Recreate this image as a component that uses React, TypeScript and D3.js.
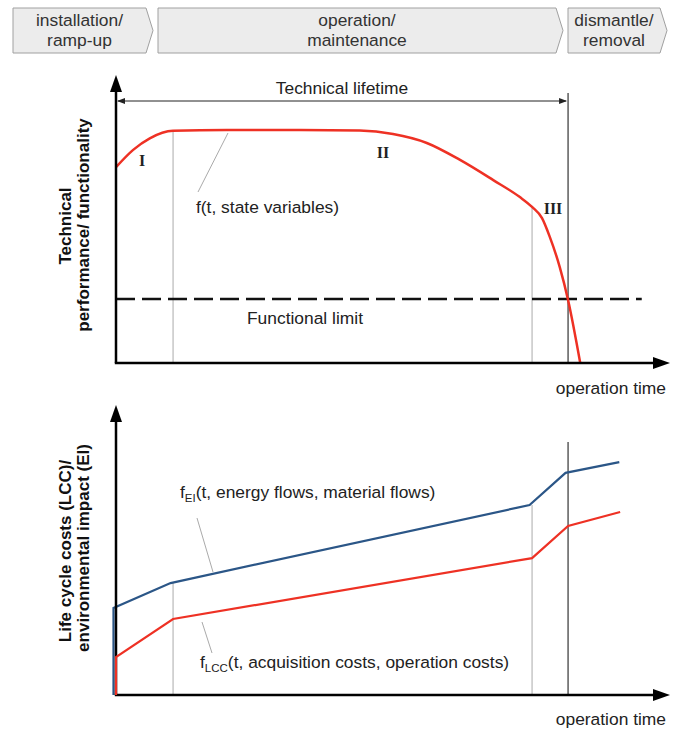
import React from "react";
import * as d3 from "d3";

// ---- data ----
const PHASE_LABELS = [
  ["installation/", "ramp-up"],
  ["operation/", "maintenance"],
  ["dismantle/", "removal"],
];

// Top chart: technical performance over operation time
const TIME_TOP = [0, 3.1, 6.1, 10.3, 20, 33.2, 44, 50, 56.1, 62.1, 68.1, 72.9, 75.1, 76.9, 78.3, 80.1, 81.6, 83.8];
const PERF = [68, 74, 78, 80.6, 80.9, 80.9, 80.7, 79.5, 76.4, 70.5, 63.5, 57.6, 54.2, 50.3, 43.8, 33.3, 21.9, 0];
const FUNCTIONAL_LIMIT = 22.2;
const LIMIT_END = 94.9;

// Phase boundaries (time)
const RAMP_END = 10.3;
const WEAR_START = 75.1;
const LIFETIME_END = 81.6;

// Bottom chart: cumulative LCC / EI
const TIME_EI = [0, 0, 10.3, 75.1, 81.6, 91.3];
const EI = [0, 30, 38.6, 65.5, 76.6, 80.3];
const TIME_LCC = [0, 0, 10.3, 75.1, 81.6, 91.0];
const LCC = [0, 13.1, 26.2, 47.2, 58.3, 63.1];

const RED = "#ee3124";
const BLUE = "#2b5687";
const GREY = "#aaaaaa";
const FONT = "'Liberation Sans', Arial, sans-serif";
const SERIF = "'Liberation Serif', 'Times New Roman', serif";
const FS = 17.4;

export default function App() {
  const x = d3.scaleLinear().domain([0, 100]).range([116, 670]);
  const yTop = d3.scaleLinear().domain([0, 100]).range([363, 75]);
  const yBot = d3.scaleLinear().domain([0, 100]).range([695, 405]);

  const perfLine = d3
    .line<number>()
    .x((_, i) => x(TIME_TOP[i]))
    .y((d) => yTop(d))
    .curve(d3.curveMonotoneX);

  const eiLine = d3
    .line<number>()
    .x((_, i) => x(TIME_EI[i]))
    .y((d) => yBot(d));
  const lccLine = d3
    .line<number>()
    .x((_, i) => x(TIME_LCC[i]))
    .y((d) => yBot(d));

  const boxes = [
    [13, 153],
    [158, 563],
    [568, 667],
  ];

  const axis = (y0: number, yTopTip: number) => {
    const x0 = x(0);
    const xEnd = x(100);
    return (
      <g>
        <line x1={x0} y1={y0} x2={x0} y2={yTopTip + 12} stroke="#000" strokeWidth={2.5} />
        <path d={`M${x0},${yTopTip} L${x0 - 6},${yTopTip + 17} L${x0 + 6},${yTopTip + 17} Z`} fill="#000" />
        <line x1={x0 - 1.2} y1={y0} x2={xEnd - 12} y2={y0} stroke="#000" strokeWidth={2.5} />
        <path d={`M${xEnd},${y0} L${xEnd - 17},${y0 - 6} L${xEnd - 17},${y0 + 6} Z`} fill="#000" />
      </g>
    );
  };

  return (
    <svg
      width={681}
      height={729}
      style={{ position: "absolute", left: 0, top: 0, background: "#fff" }}
      fontFamily={FONT}
    >
      <rect width={681} height={729} fill="#fff" />
      {/* phase chevrons */}
      {PHASE_LABELS.map((lab, i) => {
        const [x0, x1] = boxes[i];
        const t = 8;
        const b = 53;
        const m = (t + b) / 2;
        const cx = (x0 + x1 - 7) / 2;
        return (
          <g key={i}>
            <path
              d={`M${x0},${t} H${x1 - 7} L${x1},${m} L${x1 - 7},${b} H${x0} Z`}
              fill="#ececec"
              stroke="#a0a0a0"
              strokeWidth={1}
            />
            <text x={cx} y={26} textAnchor="middle" fontSize={FS} fill="#333">
              {lab[0]}
            </text>
            <text x={cx} y={46} textAnchor="middle" fontSize={FS} fill="#333">
              {lab[1]}
            </text>
          </g>
        );
      })}

      {/* ===== top chart ===== */}
      <line x1={x(RAMP_END)} y1={yTop(PERF[3])} x2={x(RAMP_END)} y2={363} stroke={GREY} strokeWidth={1} />
      <line x1={x(WEAR_START)} y1={yTop(PERF[12])} x2={x(WEAR_START)} y2={363} stroke={GREY} strokeWidth={1} />
      <line x1={x(LIFETIME_END)} y1={93} x2={x(LIFETIME_END)} y2={363} stroke="#333" strokeWidth={1.2} />
      {/* technical lifetime arrow */}
      <line x1={x(0) + 2} y1={101} x2={x(LIFETIME_END) - 2} y2={101} stroke="#222" strokeWidth={1} />
      <path d={`M${x(0) + 1},101 L${x(0) + 9},98 L${x(0) + 9},104 Z`} fill="#222" />
      <path d={`M${x(LIFETIME_END) - 1},101 L${x(LIFETIME_END) - 9},98 L${x(LIFETIME_END) - 9},104 Z`} fill="#222" />
      <text x={342} y={94} textAnchor="middle" fontSize={FS} fill="#222">
        Technical lifetime
      </text>

      {/* functional limit */}
      <line
        x1={x(0)}
        y1={yTop(FUNCTIONAL_LIMIT)}
        x2={x(LIMIT_END)}
        y2={yTop(FUNCTIONAL_LIMIT)}
        stroke="#111"
        strokeWidth={2.5}
        strokeDasharray="19,7"
      />
      <text x={305} y={324} textAnchor="middle" fontSize={FS} fill="#222">
        Functional limit
      </text>

      {/* curve */}
      <path d={perfLine(PERF) || ""} fill="none" stroke={RED} strokeWidth={2.5} />
      <line x1={228} y1={133} x2={198} y2={192} stroke={GREY} strokeWidth={1} />
      <text x={196} y={213} fontSize={FS} fill="#222">
        f(t, state variables)
      </text>
      <text x={142} y={166} textAnchor="middle" fontSize={16} fontWeight="bold" fontFamily={SERIF} fill="#222">
        I
      </text>
      <text x={383} y={158} textAnchor="middle" fontSize={16} fontWeight="bold" fontFamily={SERIF} fill="#222">
        II
      </text>
      <text x={553} y={214} textAnchor="middle" fontSize={16} fontWeight="bold" fontFamily={SERIF} fill="#222">
        III
      </text>

      {axis(363, 75)}
      <text x={666} y={394} textAnchor="end" fontSize={FS} fill="#222">
        operation time
      </text>
      <g transform="translate(71,226) rotate(-90)">
        <text textAnchor="middle" fontSize={17} fontWeight="bold" fill="#111">
          Technical
        </text>
      </g>
      <g transform="translate(89,225) rotate(-90)">
        <text textAnchor="middle" fontSize={17} fontWeight="bold" fill="#111">
          performance/ functionality
        </text>
      </g>

      {/* ===== bottom chart ===== */}
      <line x1={x(RAMP_END)} y1={yBot(EI[2])} x2={x(RAMP_END)} y2={695} stroke={GREY} strokeWidth={1} />
      <line x1={x(WEAR_START)} y1={yBot(EI[3])} x2={x(WEAR_START)} y2={695} stroke={GREY} strokeWidth={1} />
      <line x1={x(LIFETIME_END)} y1={442} x2={x(LIFETIME_END)} y2={695} stroke="#333" strokeWidth={1.2} />

      <path d={eiLine(EI) || ""} fill="none" stroke={BLUE} strokeWidth={2.2} transform="translate(-2.5,0)" />
      {axis(695, 405)}
      <path d={lccLine(LCC) || ""} fill="none" stroke={RED} strokeWidth={2.2} />

      <line x1={197} y1={518} x2={213} y2={572} stroke={GREY} strokeWidth={1} />
      <text x={180} y={498} fontSize={FS} fill="#222">
        f<tspan fontSize={11.5} dy={4}>EI</tspan>
        <tspan dy={-4}>(t, energy flows, material flows)</tspan>
      </text>
      <line x1={202} y1={622} x2={212} y2={653} stroke={GREY} strokeWidth={1} />
      <text x={200} y={668} fontSize={FS} fill="#222">
        f<tspan fontSize={11.5} dy={4}>LCC</tspan>
        <tspan dy={-4}>(t, acquisition costs, operation costs)</tspan>
      </text>

      <text x={666} y={725} textAnchor="end" fontSize={FS} fill="#222">
        operation time
      </text>
      <g transform="translate(71,551) rotate(-90)">
        <text textAnchor="middle" fontSize={17} fontWeight="bold" fill="#111">
          Life cycle costs (LCC)/
        </text>
      </g>
      <g transform="translate(89,548) rotate(-90)">
        <text textAnchor="middle" fontSize={17} fontWeight="bold" fill="#111">
          environmental impact (EI)
        </text>
      </g>
    </svg>
  );
}
